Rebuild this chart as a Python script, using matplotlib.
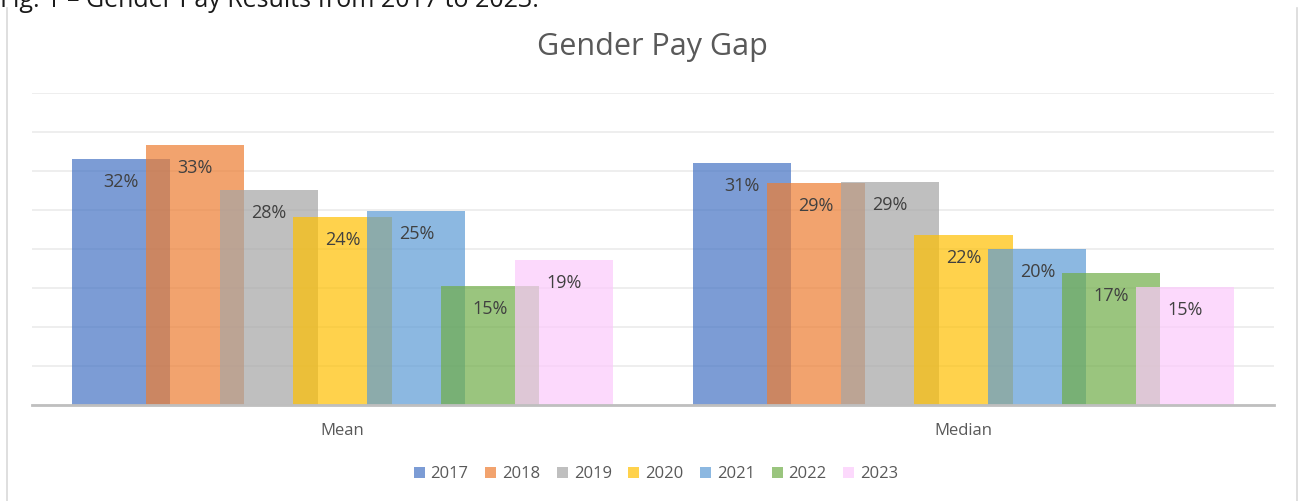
import numpy as np
import matplotlib.pyplot as plt
from matplotlib.lines import Line2D

plt.rcParams['font.family'] = ['Open Sans', 'DejaVu Sans']

categories = ['Mean', 'Median']
years = ['2017', '2018', '2019', '2020', '2021', '2022', '2023']
# gap in % per year, [mean, median]
gap = {
    '2017': [31.6, 31.0],
    '2018': [33.3, 28.5],
    '2019': [27.6, 28.6],
    '2020': [24.1, 21.8],
    '2021': [24.9, 20.0],
    '2022': [15.3, 16.9],
    '2023': [18.6, 15.1],
}
labels = {
    '2017': ['32%', '31%'],
    '2018': ['33%', '29%'],
    '2019': ['28%', '29%'],
    '2020': ['24%', '22%'],
    '2021': ['25%', '20%'],
    '2022': ['15%', '17%'],
    '2023': ['19%', '15%'],
}
colors = ['#4472C4', '#ED7D31', '#A5A5A5', '#FFC000', '#5B9BD5', '#70AD47', '#FCC9FC']

fig = plt.figure(figsize=(13.03, 5.01), dpi=100)
ax = fig.add_axes([32/1303, 1-405/501, (1274-32)/1303, (405-93)/501])

x = np.arange(len(categories))
step = 0.119
width = 0.158
for i, yr in enumerate(years):
    pos = x + (i - 3) * step
    ax.bar(pos, gap[yr], width=width, color=colors[i], alpha=0.7, label=yr, zorder=2, linewidth=0)

# data labels sit just inside the top of each bar
for i, yr in enumerate(years):
    pos = x + (i - 3) * step
    for xp, v, lab in zip(pos, gap[yr], labels[yr]):
        ax.annotate(lab, (xp, v), xytext=(0, -23), textcoords='offset pixels',
                    ha='center', va='center', fontsize=13, color='#404040', zorder=5)

ax.set_xlim(-0.5, 1.5)
ax.set_ylim(0, 40)
ax.set_yticks(np.arange(0, 41, 5))
ax.yaxis.grid(True, color='#EBEBEB', linewidth=1.2, zorder=0)
ax.set_axisbelow(True)
ax.tick_params(axis='y', left=False, labelleft=False)
ax.set_xticks(x)
ax.set_xticklabels(categories, fontsize=12, color='#595959')
ax.tick_params(axis='x', length=0, pad=13)
for s in ['top', 'right', 'left']:
    ax.spines[s].set_visible(False)
ax.spines['bottom'].set_color('#BFBFBF')
ax.spines['bottom'].set_linewidth(2)
ax.spines['bottom'].set_zorder(3)

fig.text(0.5005, 1-47/501, 'Gender Pay Gap', ha='center', va='center', fontsize=22,
         color='#595959')

fig.text(0.0, 1-7/501, 'Fig. 1 \u2013 Gender Pay Results from 2017 to 2023.', ha='left',
         va='baseline', fontsize=18, color='#1A1A1A')

leg = fig.legend(loc='center', bbox_to_anchor=(656/1303, 1-474/501), ncol=7, frameon=False,
                 fontsize=12, handlelength=0.66, handleheight=0.66, handletextpad=0.35,
                 columnspacing=1.0, labelcolor='#595959')

fig.add_artist(Line2D([7/1303, 7/1303], [0, 1-8/501], color='#D9D9D9', linewidth=1.2))
fig.add_artist(Line2D([1297/1303, 1297/1303], [0, 1-8/501], color='#D9D9D9', linewidth=1.2))

fig.savefig('out.png', dpi=100)
